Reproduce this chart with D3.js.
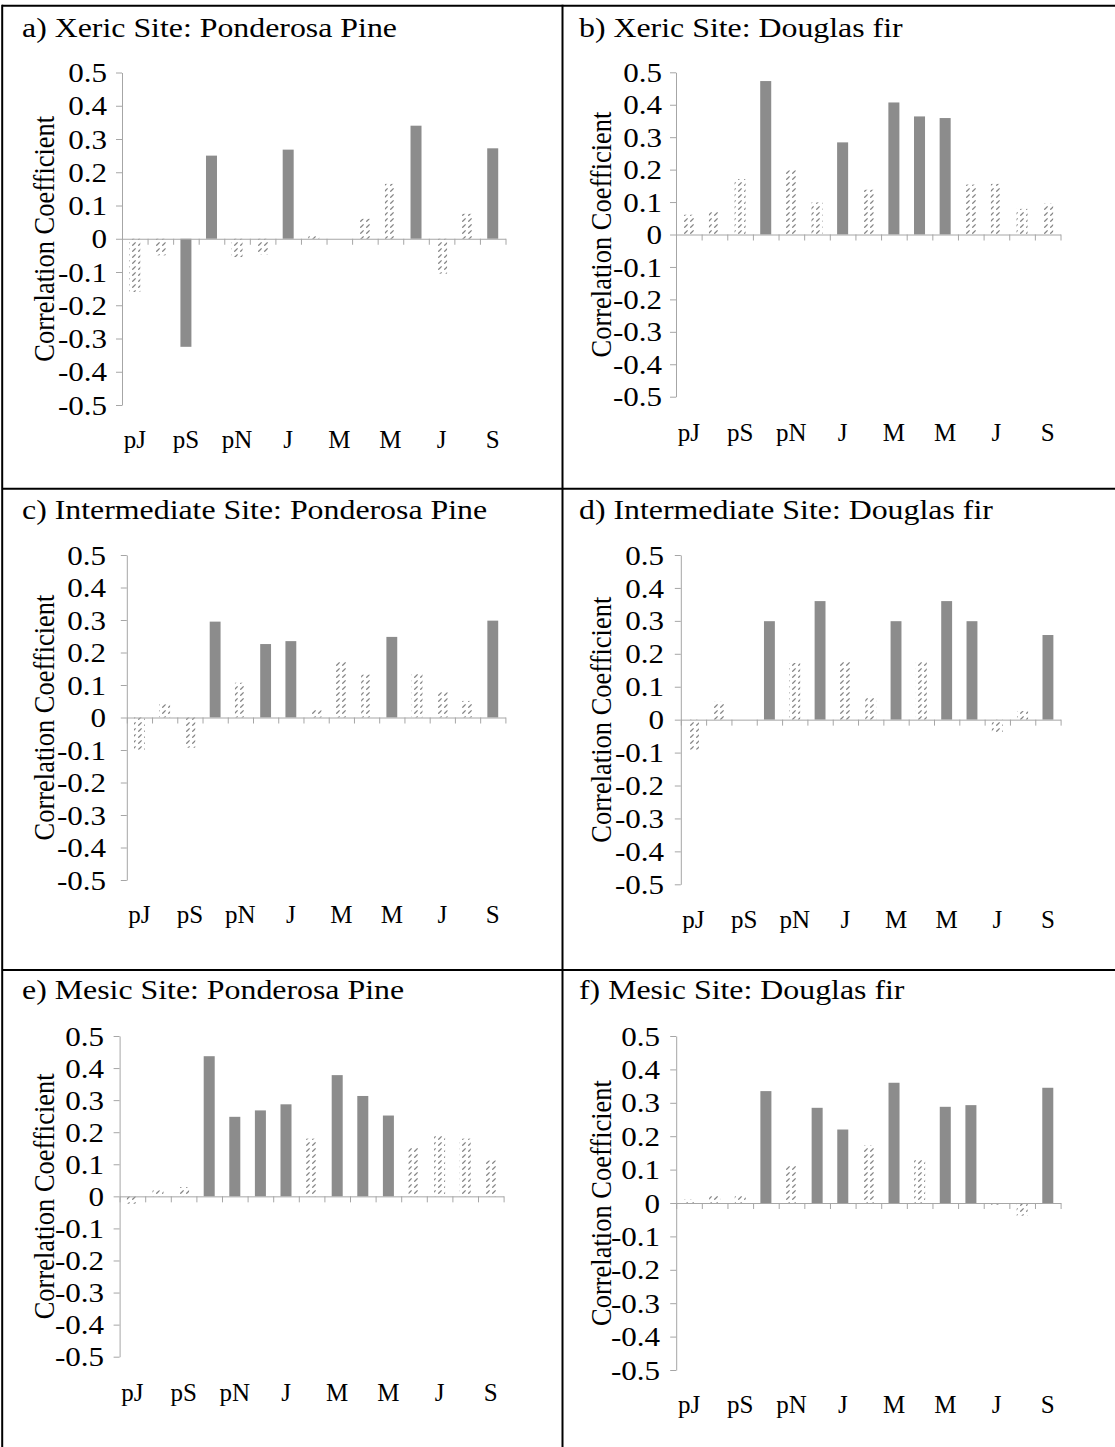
<!DOCTYPE html>
<html>
<head>
<meta charset="utf-8">
<script src="https://cdn.jsdelivr.net/npm/d3@7"></script>
<style>
  html, body { margin: 0; padding: 0; background: #fff; }
  svg { display: block; }
  text { font-family: "Liberation Serif", "Times New Roman", serif; fill: #000; }
</style>
</head>
<body>
<svg id="fig" width="1115" height="1447"></svg>
<script>
// Months from prior-year July through current September
const months = ["pJ","pA","pS","pO","pN","pD","J","F","M","A","M","J","J","A","S"];
// Every other month is labelled on the category axis
const labelledMonths = [0, 2, 4, 6, 8, 10, 12, 14];
const yTicks = [0.5, 0.4, 0.3, 0.2, 0.1, 0, -0.1, -0.2, -0.3, -0.4, -0.5];
const yTitle = "Correlation Coefficient";

const titles = [
  "a) Xeric Site: Ponderosa Pine",
  "b) Xeric Site: Douglas fir",
  "c) Intermediate Site: Ponderosa Pine",
  "d) Intermediate Site: Douglas fir",
  "e) Mesic Site: Ponderosa Pine",
  "f) Mesic Site: Douglas fir"
];

// Correlation coefficients per month; *Sig marks significant months (solid bars)
const xericPine      = [-0.16, -0.05, -0.325, 0.25, -0.055, -0.047, 0.268, 0.008, 0, 0.06, 0.165, 0.34, -0.105, 0.075, 0.272];
const xericPineSig   = [0, 0, 1, 1, 0, 0, 1, 0, 0, 0, 0, 1, 0, 0, 1];
const xericFir       = [0.061, 0.072, 0.171, 0.473, 0.198, 0.099, 0.284, 0.138, 0.407, 0.364, 0.359, 0.154, 0.156, 0.079, 0.095];
const xericFirSig    = [0, 0, 0, 1, 0, 0, 1, 0, 1, 1, 1, 0, 0, 0, 0];
const interPine      = [-0.099, 0.041, -0.093, 0.295, 0.107, 0.226, 0.235, 0.028, 0.171, 0.132, 0.248, 0.138, 0.078, 0.051, 0.298];
const interPineSig   = [0, 0, 0, 1, 0, 1, 1, 0, 0, 0, 1, 0, 0, 0, 1];
const interFir       = [-0.091, 0.054, 0, 0.299, 0.172, 0.36, 0.181, 0.072, 0.299, 0.175, 0.36, 0.299, -0.041, 0.026, 0.257];
const interFirSig    = [0, 0, 0, 1, 0, 1, 0, 0, 1, 0, 1, 1, 0, 0, 1];
const mesicPine      = [-0.023, 0.019, 0.029, 0.437, 0.248, 0.268, 0.287, 0.18, 0.378, 0.313, 0.252, 0.151, 0.19, 0.18, 0.112];
const mesicPineSig   = [0, 0, 0, 1, 1, 1, 1, 0, 1, 1, 1, 0, 0, 0, 0];
const mesicFir       = [0.01, 0.027, 0.022, 0.335, 0.112, 0.285, 0.22, 0.172, 0.36, 0.13, 0.288, 0.293, -0.005, -0.038, 0.345];
const mesicFirSig    = [0, 0, 0, 1, 0, 1, 1, 0, 1, 0, 1, 1, 0, 0, 1];

const series = [
  [xericPine, xericPineSig], [xericFir, xericFirSig],
  [interPine, interPineSig], [interFir, interFirSig],
  [mesicPine, mesicPineSig], [mesicFir, mesicFirSig]
];

// Plot frames inside each table cell
const frames = [
  { cellX: 0,   left: 122,   right: 505.5,  top: 72.5, bottom: 405,    labelY: 448,  tickRight: 107, titleY: 37 },
  { cellX: 557, left: 676,   right: 1060.5, top: 72.3, bottom: 396.7,  labelY: 441,  tickRight: 662, titleY: 37 },
  { cellX: 0,   left: 126.8, right: 505.4,  top: 555,  bottom: 880,    labelY: 923,  tickRight: 106, titleY: 519 },
  { cellX: 557, left: 680.8, right: 1060.6, top: 555,  bottom: 884.3,  labelY: 928,  tickRight: 664, titleY: 519 },
  { cellX: 0,   left: 119.6, right: 503.6,  top: 1036, bottom: 1356.7, labelY: 1401, tickRight: 104, titleY: 999 },
  { cellX: 557, left: 676.2, right: 1060.6, top: 1036, bottom: 1370,   labelY: 1413, tickRight: 660, titleY: 999 }
];

const SOLID = "#8c8c8c";
const AXIS = "#a6a6a6";

const svg = d3.select("#fig");

// Dashed upward-diagonal fill for non-significant months
const defs = svg.append("defs");
const pat = defs.append("pattern")
  .attr("id", "hatch")
  .attr("patternUnits", "userSpaceOnUse")
  .attr("width", 6).attr("height", 6);
pat.append("rect").attr("width", 6).attr("height", 6).attr("fill", "#fff");
pat.append("path")
  .attr("d", "M0.3,5.7 L3.6,2.4")
  .attr("stroke", "#858585")
  .attr("stroke-width", 1.3)
  .attr("fill", "none");

// Table rules
const rules = svg.append("g").attr("stroke", "#000").attr("stroke-width", 2);
rules.append("line").attr("x1", 2).attr("x2", 1115).attr("y1", 5.7).attr("y2", 5.7);
rules.append("line").attr("x1", 2.2).attr("x2", 2.2).attr("y1", 4.7).attr("y2", 1447);
rules.append("line").attr("x1", 562.5).attr("x2", 562.5).attr("y1", 4.7).attr("y2", 1447);
rules.append("line").attr("x1", 2).attr("x2", 1115).attr("y1", 488.7).attr("y2", 488.7);
rules.append("line").attr("x1", 2).attr("x2", 1115).attr("y1", 970).attr("y2", 970);

const fmt = d => (d === 0 ? "0" : d.toFixed(1));

frames.forEach((f, k) => {
  const [vals, sig] = series[k];
  const g = svg.append("g");

  const y = d3.scaleLinear().domain([-0.5, 0.5]).range([f.bottom, f.top]);
  const xb = d3.scaleLinear().domain([0, months.length]).range([f.left, f.right]);
  const x = d3.scaleBand()
    .domain(d3.range(months.length))
    .range([f.left, f.right])
    .paddingInner(0.57)
    .paddingOuter(0.285);

  // Panel title
  g.append("text")
    .attr("transform", `translate(${f.cellX + 22},${f.titleY}) scale(1.18,1)`)
    .attr("font-size", 27)
    .text(titles[k]);

  // Bars
  g.append("g").selectAll("rect")
    .data(vals.map((v, i) => ({ i, v, s: sig[i] })))
    .join("rect")
    .attr("x", d => x(d.i))
    .attr("width", x.bandwidth())
    .attr("y", d => y(Math.max(0, d.v)))
    .attr("height", d => Math.abs(y(d.v) - y(0)))
    .attr("fill", d => (d.s ? SOLID : "url(#hatch)"));

  // Value axis
  const yAx = g.append("g")
    .attr("transform", `translate(${f.left},0)`)
    .call(d3.axisLeft(y).tickValues(yTicks).tickFormat(fmt).tickSize(6).tickSizeOuter(0));
  yAx.select(".domain").attr("stroke", AXIS);
  yAx.selectAll(".tick line").attr("stroke", AXIS);
  yAx.selectAll(".tick text")
    .attr("x", null).attr("dy", null)
    .attr("font-size", 27)
    .attr("font-family", null)
    .attr("transform", `translate(${f.tickRight - f.left},9.1) scale(1.15,1)`)
    .attr("text-anchor", "end");

  // Category axis along zero, ticks between months
  const xAx = g.append("g")
    .attr("transform", `translate(0,${y(0)})`)
    .call(d3.axisBottom(xb).tickValues(d3.range(months.length + 1)).tickFormat("").tickSize(6).tickSizeOuter(0));
  xAx.select(".domain").attr("stroke", AXIS);
  xAx.selectAll(".tick line").attr("stroke", AXIS);

  // Month labels along the bottom
  const lab = g.append("g")
    .attr("transform", `translate(0,${f.labelY})`)
    .call(d3.axisBottom(x).tickValues(labelledMonths).tickFormat(i => months[i]).tickSize(0));
  lab.select(".domain").remove();
  lab.selectAll(".tick text")
    .attr("y", 0).attr("dy", null)
    .attr("font-size", 25)
    .attr("font-family", null)
    .attr("text-anchor", "middle");

  // Value axis title
  g.append("text")
    .attr("transform", `translate(${f.cellX + 54},${(f.top + f.bottom) / 2}) rotate(-90) scale(1,1.12)`)
    .attr("text-anchor", "middle")
    .attr("font-size", 26.5)
    .text(yTitle);
});
</script>
</body>
</html>
